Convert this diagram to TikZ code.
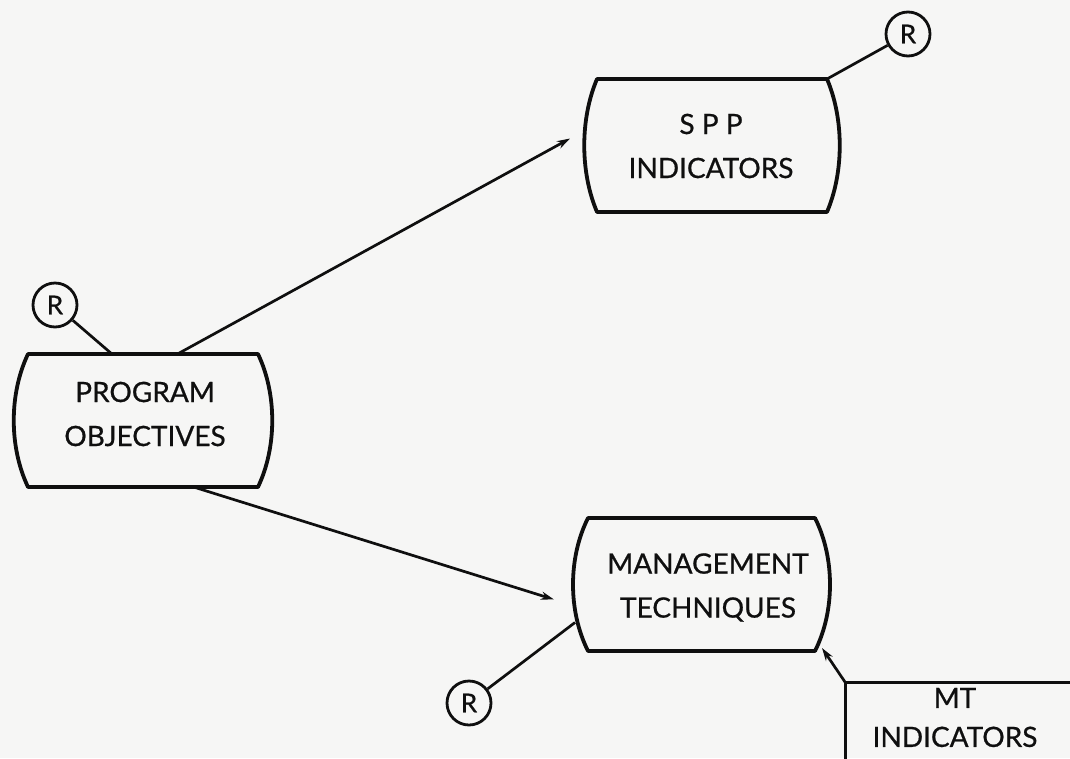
\documentclass[tikz,border=0pt]{standalone}
\usepackage{fontspec}
\setmainfont{Lato}
\newfontfamily\labelfont{Lato}[FakeBold=0.7]
\usetikzlibrary{arrows.meta,calc}
\definecolor{paper}{RGB}{246,246,245}
\definecolor{ink}{RGB}{15,15,15}
\newcommand\bulgebox[2]{%
  \draw[boxline] (#1.north west) -- (#1.north east)
    .. controls ($(#1.north east)!0.3!(#1.south east)+(#2,0)$) and ($(#1.north east)!0.7!(#1.south east)+(#2,0)$) .. (#1.south east)
    -- (#1.south west)
    .. controls ($(#1.south west)!0.3!(#1.north west)+(-#2,0)$) and ($(#1.south west)!0.7!(#1.north west)+(-#2,0)$) .. (#1.north west) -- cycle;}
\tikzset{
  boxshape/.style={inner sep=0pt, outer sep=0pt},
  boxtext/.style={inner sep=0pt, align=center, text=ink, font=\labelfont\fontsize{28}{44}\selectfont},
  boxline/.style={draw=ink, line width=3.8pt, line join=round},
  conn/.style={draw=ink, line width=2.7pt},
  arr/.style={conn, -{Stealth[length=13pt,width=8pt]}},
  rcirc/.style={circle, draw=ink, line width=2.8pt, minimum size=44pt, inner sep=0pt, text=ink, font=\labelfont\fontsize{26}{26}\selectfont},
  rectline/.style={draw=ink, line width=3pt, line join=miter}
}
\begin{document}
\begin{tikzpicture}[x=1pt,y=-1pt]
\fill[paper] (0,0) rectangle (1070,758);
\clip (0,0) rectangle (1070,758);

\node[boxshape, minimum width=230pt, minimum height=133pt] (po) at (143,420.5) {};
\bulgebox{po}{19}
\node[boxtext] (pot) at (145,414) {PROGRAM\\OBJECTIVES};

\node[boxshape, minimum width=230pt, minimum height=133pt] (spp) at (712,145.5) {};
\bulgebox{spp}{17}
\node[boxtext] (sppt) at (711,146) {S P P\\INDICATORS};

\node[boxshape, minimum width=227pt, minimum height=133pt] (mt) at (701.5,584.5) {};
\bulgebox{mt}{20}
\node[boxtext] (mtt) at (708,587.5) {MANAGEMENT\\TECHNIQUES};

\node[boxshape, minimum width=240pt, minimum height=71pt, anchor=north west] (mti) at (845,682) {};
\draw[rectline] ($(mti.south west)+(0,30)$) -- (mti.north west) -- ($(mti.north east)+(20,0)$);
\node[boxtext, font=\labelfont\fontsize{28}{39}\selectfont] (mtit) at (955,717.5) {MT\\INDICATORS};

\node[rcirc] (r1) at (55,305) {R};
\node[rcirc] (r2) at (908,34) {R};
\node[rcirc] (r3) at (469,703) {R};

\coordinate (sppin) at ($(spp.west)+(-27,-7)$);
\coordinate (mtin) at ($(mt.west)+(-34,15)$);
\coordinate (mtr) at ($(mt.west)+(-13,38)$);
\coordinate (mtse) at ($(mt.south east)+(7,-3)$);

\draw[arr] ($(po.north west)!0.65!(po.north east)$) -- (sppin);
\draw[arr] ($(po.south west)!0.72!(po.south east)$) -- (mtin);
\draw[conn] (r1) -- ($(po.north west)!0.365!(po.north east)$);
\draw[conn] (r2) -- (spp.north east);
\draw[conn] (r3) -- (mtr);
\draw[arr] (mti.north west) -- (mtse);
\end{tikzpicture}
\end{document}
